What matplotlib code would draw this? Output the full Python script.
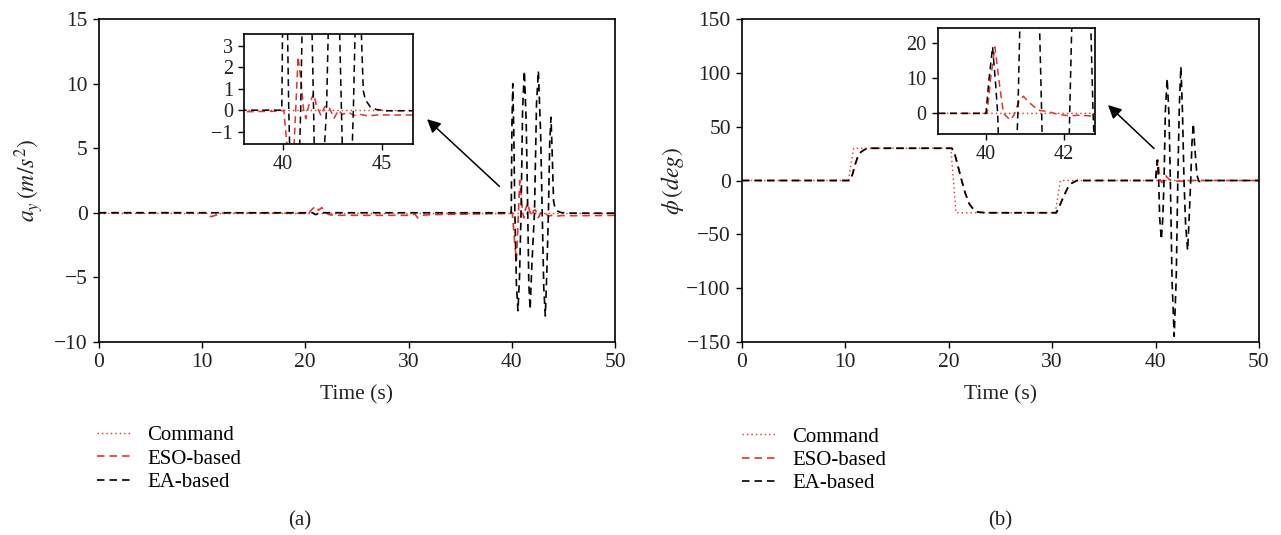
import matplotlib
matplotlib.use("Agg")
from matplotlib import pyplot as plt

plt.rcParams['font.family'] = ['Liberation Serif', 'DejaVu Serif']
plt.rcParams['mathtext.fontset'] = 'stix'

# ---- (a) lateral acceleration a_y ----
t_cmd_a = [0, 50]
cmd_a = [0, 0]

t_eso_a = [0, 10.3, 10.6, 10.9, 11.3, 11.8, 12.5, 20.3, 20.7, 21.0, 21.3, 21.6, 21.9, 22.3, 23.0,
           30.2, 30.6, 30.9, 31.3, 32.0, 39.9, 40.05, 40.25, 40.45, 40.6, 40.77, 40.9, 41.05,
           41.16, 41.3, 41.55, 41.7, 41.92, 42.1, 42.28, 42.58, 42.8, 43.0, 43.3, 43.6, 43.9,
           44.3, 44.8, 46.0, 50]
eso_a = [0, 0, -0.25, -0.3, -0.2, -0.05, 0.0, -0.05, 0.3, 0.5, 0.2, 0.4, 0.1, -0.15, -0.2,
         -0.2, -0.1, -0.4, -0.2, -0.15, -0.05, 0, -2.0, -3.7, -1.0, 2.5, 1.5, 0,
         -0.4, 0.2, 0.77, 0.2, -0.25, 0.15, 0.23, -0.38, 0.0, -0.2, -0.1, -0.25, -0.2,
         -0.27, -0.22, -0.23, -0.2]

t_ea_a = [0, 20.7, 21.0, 21.4, 39.95, 40.02, 40.1, 40.2, 40.3, 40.45, 40.6, 40.75, 40.9,
          41.05, 41.22, 41.4, 41.55, 41.65, 41.78, 41.95, 42.2, 42.4, 42.58, 42.8, 42.95,
          43.1, 43.25, 43.4, 43.55, 43.68, 43.8, 43.92, 44.05, 44.15, 44.4, 44.7, 45.2, 50]
ea_a = [0, 0, -0.15, 0, 0, 7, 10, 6, 0, -5.5, -7.6, -5, 0,
        8, 11, 7, 0, -5.5, -7.5, -4, 0, 8.5, 11, 6, 0,
        -5.8, -8, -4.5, 0, 5.5, 7.4, 4.5, 0.9, 0.5, 0.15, 0.03, -0.03, -0.03]

# ---- (b) roll angle phi ----
t_cmd_b = [0, 10.3, 10.8, 20.2, 20.7, 30.3, 30.8, 50]
cmd_b = [0, 0, 30, 30, -30, -30, 0, 0]

t_step_b = [0, 10.45, 10.7, 10.95, 11.2, 11.5, 11.9, 12.4, 20.3, 20.6, 20.9, 21.25, 21.6,
            22.0, 22.4, 22.8, 23.5, 30.4, 30.7, 31.1, 31.5, 31.9, 32.4]
step_b = [0, 0, 6, 15, 22, 26.5, 29, 30, 30, 24, 13, 0, -12,
          -22, -27, -29.3, -30, -30, -24, -15, -7, -2.5, 0]

t_eso_b = t_step_b + [40.03, 40.12, 40.23, 40.35, 40.45, 40.62, 40.72, 40.83, 40.96, 41.1,
                      41.34, 41.6, 41.85, 42.15, 42.4, 42.75, 43.0, 43.5, 50]
eso_b = step_b + [0, 10, 19, 8, 0, -1.9, -0.5, 3.0, 4.9, 3.2,
                  0.9, 0.5, -0.3, -0.7, -0.5, -0.8, -0.4, 0, 0]

t_ea_b = t_step_b + [40.0, 40.08, 40.17, 40.25, 40.3, 40.4, 40.56, 40.7, 40.82, 40.95, 41.12,
                     41.3, 41.43, 41.6, 41.8, 42.0, 42.15, 42.3, 42.45, 42.6, 42.75, 42.9,
                     43.1, 43.25, 43.4, 43.52, 43.65, 43.8, 44.0, 44.2, 44.5, 50]
ea_b = step_b + [0, 10, 19, 8, 0, -35, -55, -35, 0, 65, 95,
                 60, 0, -95, -145, -90, 0, 70, 106, 65, 0, -40,
                 -65, -35, 0, 35, 53, 30, 5, -1, 0, 0]

RED = '#e5332a'
TXT = '#222222'

fig = plt.figure(figsize=(12.81, 5.35), dpi=100)


def draw_lines(ax, tc, c, te, e, ta, a, lw=1.2):
    l1, = ax.plot(tc, c, color=RED, lw=1.0, dashes=(1, 2.2), label='Command')
    l2, = ax.plot(te, e, color=RED, lw=lw, dashes=(4.5, 3), label='ESO-based')
    l3, = ax.plot(ta, a, color='black', lw=lw, dashes=(4.5, 3), label='EA-based')
    return [l1, l2, l3]


def style(ax, size, width=1.2):
    for s in ax.spines.values():
        s.set_linewidth(width)
    ax.tick_params(labelsize=size, colors='black', labelcolor=TXT, width=1.0, length=4.5)


# panel (a)
ax1 = fig.add_axes([0.0771, 0.3613, 0.403, 0.6026])
h = draw_lines(ax1, t_cmd_a, cmd_a, t_eso_a, eso_a, t_ea_a, ea_a)
ax1.set_xlim(0, 50)
ax1.set_ylim(-10, 15)
ax1.set_xticks([0, 10, 20, 30, 40, 50])
ax1.set_yticks([-10, -5, 0, 5, 10, 15])
style(ax1, 15.5)
ax1.set_xlabel('Time (s)', fontsize=15.5, color=TXT, labelpad=10)
ax1.set_ylabel(r'$a_y\,(m/s^2)$', fontsize=17, color=TXT, labelpad=6)
ax1.annotate('', xy=(31.6, 7.4), xytext=(39.0, 1.9),
             arrowprops=dict(arrowstyle='-|>', color='black', lw=1.1, mutation_scale=20))

in1 = fig.add_axes([0.1905, 0.7308, 0.1319, 0.2056])
draw_lines(in1, t_cmd_a, cmd_a, t_eso_a, eso_a, t_ea_a, ea_a, lw=1.1)
in1.set_xlim(38.05, 46.55)
in1.set_ylim(-1.58, 3.55)
in1.set_xticks([40, 45])
in1.set_yticks([-1, 0, 1, 2, 3])
style(in1, 14.5)

fig.legend(handles=h, loc='upper left', bbox_to_anchor=(0.0757, 0.204), frameon=False,
           fontsize=15, handlelength=1.6, handletextpad=0.8, labelspacing=0.18,
           borderpad=0, borderaxespad=0)
fig.text(0.234, 0.026, '(a)', fontsize=15, color=TXT, ha='center', va='center')

# panel (b)
ax2 = fig.add_axes([0.5792, 0.3613, 0.4036, 0.6026])
h = draw_lines(ax2, t_cmd_b, cmd_b, t_eso_b, eso_b, t_ea_b, ea_b)
ax2.set_xlim(0, 50)
ax2.set_ylim(-150, 150)
ax2.set_xticks([0, 10, 20, 30, 40, 50])
ax2.set_yticks([-150, -100, -50, 0, 50, 100, 150])
style(ax2, 15.5)
ax2.set_xlabel('Time (s)', fontsize=15.5, color=TXT, labelpad=10)
ax2.set_ylabel(r'$\phi\,(deg)$', fontsize=17, color=TXT, labelpad=0)
ax2.annotate('', xy=(35.2, 72), xytext=(40.05, 28),
             arrowprops=dict(arrowstyle='-|>', color='black', lw=1.1, mutation_scale=20))

in2 = fig.add_axes([0.732, 0.7495, 0.1228, 0.1976])
draw_lines(in2, t_cmd_b, cmd_b, t_eso_b, eso_b, t_ea_b, ea_b, lw=1.1)
in2.set_xlim(38.76, 42.8)
in2.set_ylim(-5.9, 24.3)
in2.set_xticks([40, 42])
in2.set_yticks([0, 10, 20])
style(in2, 14.5)

fig.legend(handles=h, loc='upper left', bbox_to_anchor=(0.5792, 0.202), frameon=False,
           fontsize=15, handlelength=1.6, handletextpad=0.8, labelspacing=0.18,
           borderpad=0, borderaxespad=0)
fig.text(0.7806, 0.026, '(b)', fontsize=15, color=TXT, ha='center', va='center')

fig.savefig('out.png', dpi=100)
